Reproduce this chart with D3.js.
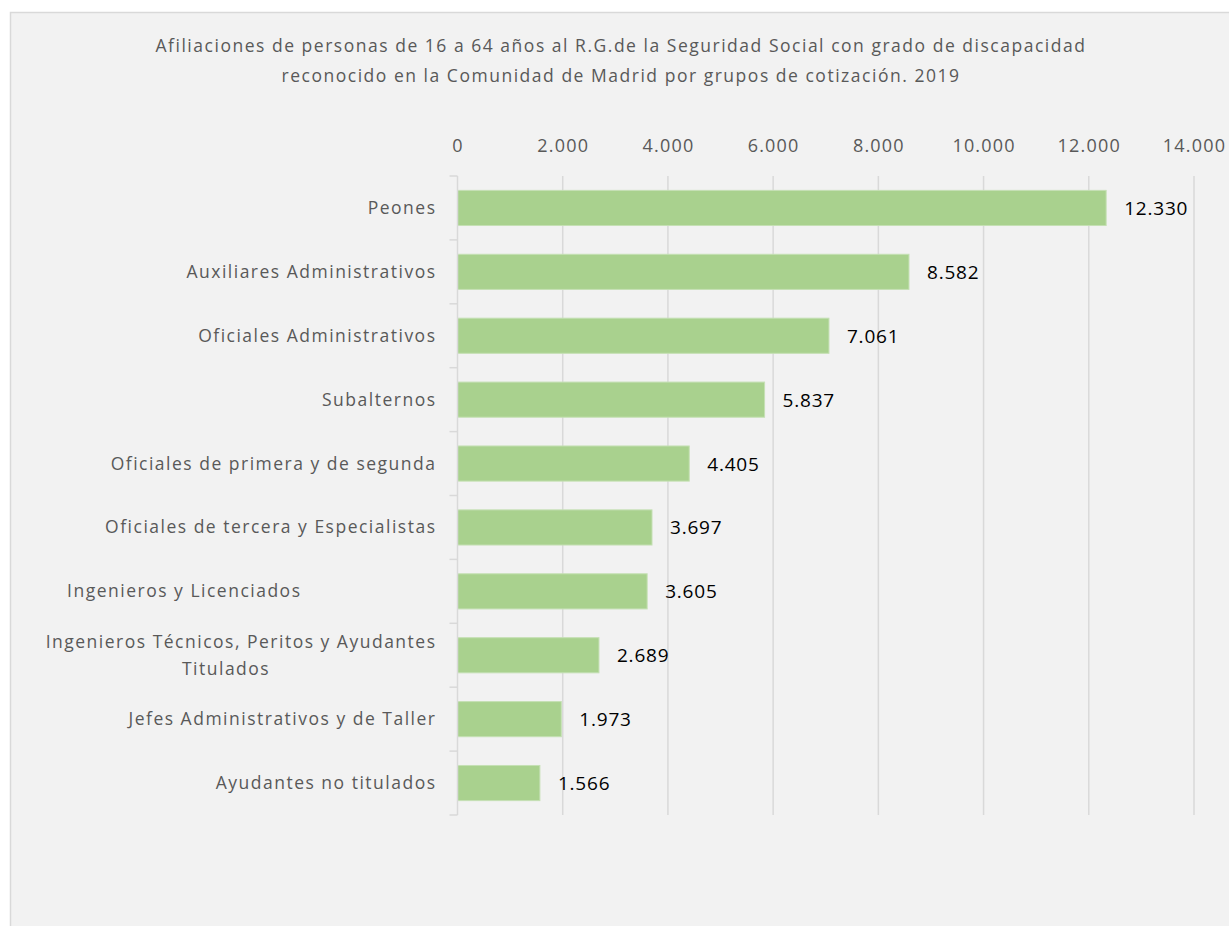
<!DOCTYPE html>
<html><head><meta charset="utf-8">
<script src="https://cdn.jsdelivr.net/npm/d3@7"></script>
<style>html,body{margin:0;padding:0;background:#fff;}svg{display:block;}</style>
</head><body>
<svg id="chart" width="1229" height="926"></svg>
<script>
const categories = [
  "Peones",
  "Auxiliares Administrativos",
  "Oficiales Administrativos",
  "Subalternos",
  "Oficiales de primera y de segunda",
  "Oficiales de tercera y Especialistas",
  "Ingenieros y Licenciados",
  "Ingenieros Técnicos, Peritos y Ayudantes|Titulados",
  "Jefes Administrativos y de Taller",
  "Ayudantes no titulados"
];
const values = [12330, 8582, 7061, 5837, 4405, 3697, 3605, 2689, 1973, 1566];
const tickValues = [0, 2000, 4000, 6000, 8000, 10000, 12000, 14000];
const titleLines = [
  "Afiliaciones de personas de 16 a 64 años al R.G.de la Seguridad Social con grado de discapacidad",
  "reconocido en la Comunidad de Madrid por grupos de cotización. 2019"
];

(function () {
const fmt = v => d3.format(",")(v).replace(/,/g, ".");
const font = "'Open Sans', 'Liberation Sans', sans-serif";
const svg = d3.select("#chart");

svg.append("rect").attr("x", 10.5).attr("y", 12.5).attr("width", 1240).attr("height", 940)
  .attr("fill", "#f2f2f2").attr("stroke", "#d9d9d9").attr("stroke-width", 1.5);

const pLeft = 457.5, pRight = 1194, pTop = 176, pBottom = 815;
const x = d3.scaleLinear().domain([0, 14000]).range([pLeft, pRight]);
const y = d3.scaleBand().domain(categories).range([pTop, pBottom]).paddingInner(0.45).paddingOuter(0.225);

// title
svg.append("g").selectAll("text").data(titleLines).join("text")
  .attr("x", 621).attr("y", (d, i) => 52 + i * 30)
  .attr("text-anchor", "middle").attr("font-family", font).attr("font-size", 17.5)
  .attr("letter-spacing", 1.52)
  .attr("fill", "#595959").text(d => d);

// gridlines
svg.append("g").selectAll("line").data(tickValues.filter(d => d > 0)).join("line")
  .attr("x1", d => x(d)).attr("x2", d => x(d)).attr("y1", pTop).attr("y2", pBottom)
  .attr("stroke", "#d9d9d9").attr("stroke-width", 1.5);

// top axis
const xAxis = d3.axisTop(x).tickValues(tickValues).tickFormat(fmt).tickSize(0).tickPadding(0);
const gx = svg.append("g").attr("transform", `translate(0,${152})`).call(xAxis);
gx.select(".domain").remove();
gx.selectAll("text").attr("font-family", font).attr("font-size", 18).attr("letter-spacing", 1.2)
  .attr("fill", "#595959");

// bars
svg.append("g").selectAll("rect").data(values).join("rect")
  .attr("x", x(0)).attr("y", (d, i) => y(categories[i]))
  .attr("width", d => x(d) - x(0)).attr("height", y.bandwidth())
  .attr("fill", "#a9d18e").attr("stroke", "#c5e0b4").attr("stroke-width", 1);

// left axis line and ticks
const yb = svg.append("g");
yb.append("line").attr("x1", pLeft).attr("x2", pLeft).attr("y1", pTop).attr("y2", pBottom)
  .attr("stroke", "#d9d9d9").attr("stroke-width", 1.5);
const step = y.step();
yb.selectAll("line.tk").data(d3.range(categories.length + 1)).join("line").attr("class", "tk")
  .attr("x1", pLeft - 8).attr("x2", pLeft).attr("y1", i => pTop + i * step).attr("y2", i => pTop + i * step)
  .attr("stroke", "#d9d9d9").attr("stroke-width", 1.5);

// category labels
const labelShift = {"Ingenieros y Licenciados": -135};
const ls = 1.5;
const cl = svg.append("g");
categories.forEach(c => {
  const lines = c.split("|");
  const cy = y(c) + y.bandwidth() / 2;
  const xr = 435 + ls + (labelShift[c] || 0);
  const t = cl.append("text").attr("font-family", font).attr("font-size", 17.5).attr("fill", "#595959")
    .attr("letter-spacing", ls).attr("text-anchor", "end");
  if (lines.length === 1) {
    t.attr("x", xr).attr("y", cy + 6).text(c);
  } else {
    t.attr("x", xr).attr("y", cy - 7).text(lines[0]);
    const w = t.node().getComputedTextLength();
    cl.append("text").attr("font-family", font).attr("font-size", 17.5).attr("fill", "#595959")
      .attr("letter-spacing", ls)
      .attr("text-anchor", "middle").attr("x", xr - w / 2 - 15).attr("y", cy + 20).text(lines[1]);
  }
});

// value labels
svg.append("g").selectAll("text").data(values).join("text")
  .attr("x", d => x(d) + 18).attr("y", (d, i) => y(categories[i]) + y.bandwidth() / 2 + 7)
  .attr("font-family", font).attr("font-size", 19).attr("letter-spacing", 0.8)
  .attr("fill", "#000").text(d => fmt(d));
})();
</script>
</body></html>
